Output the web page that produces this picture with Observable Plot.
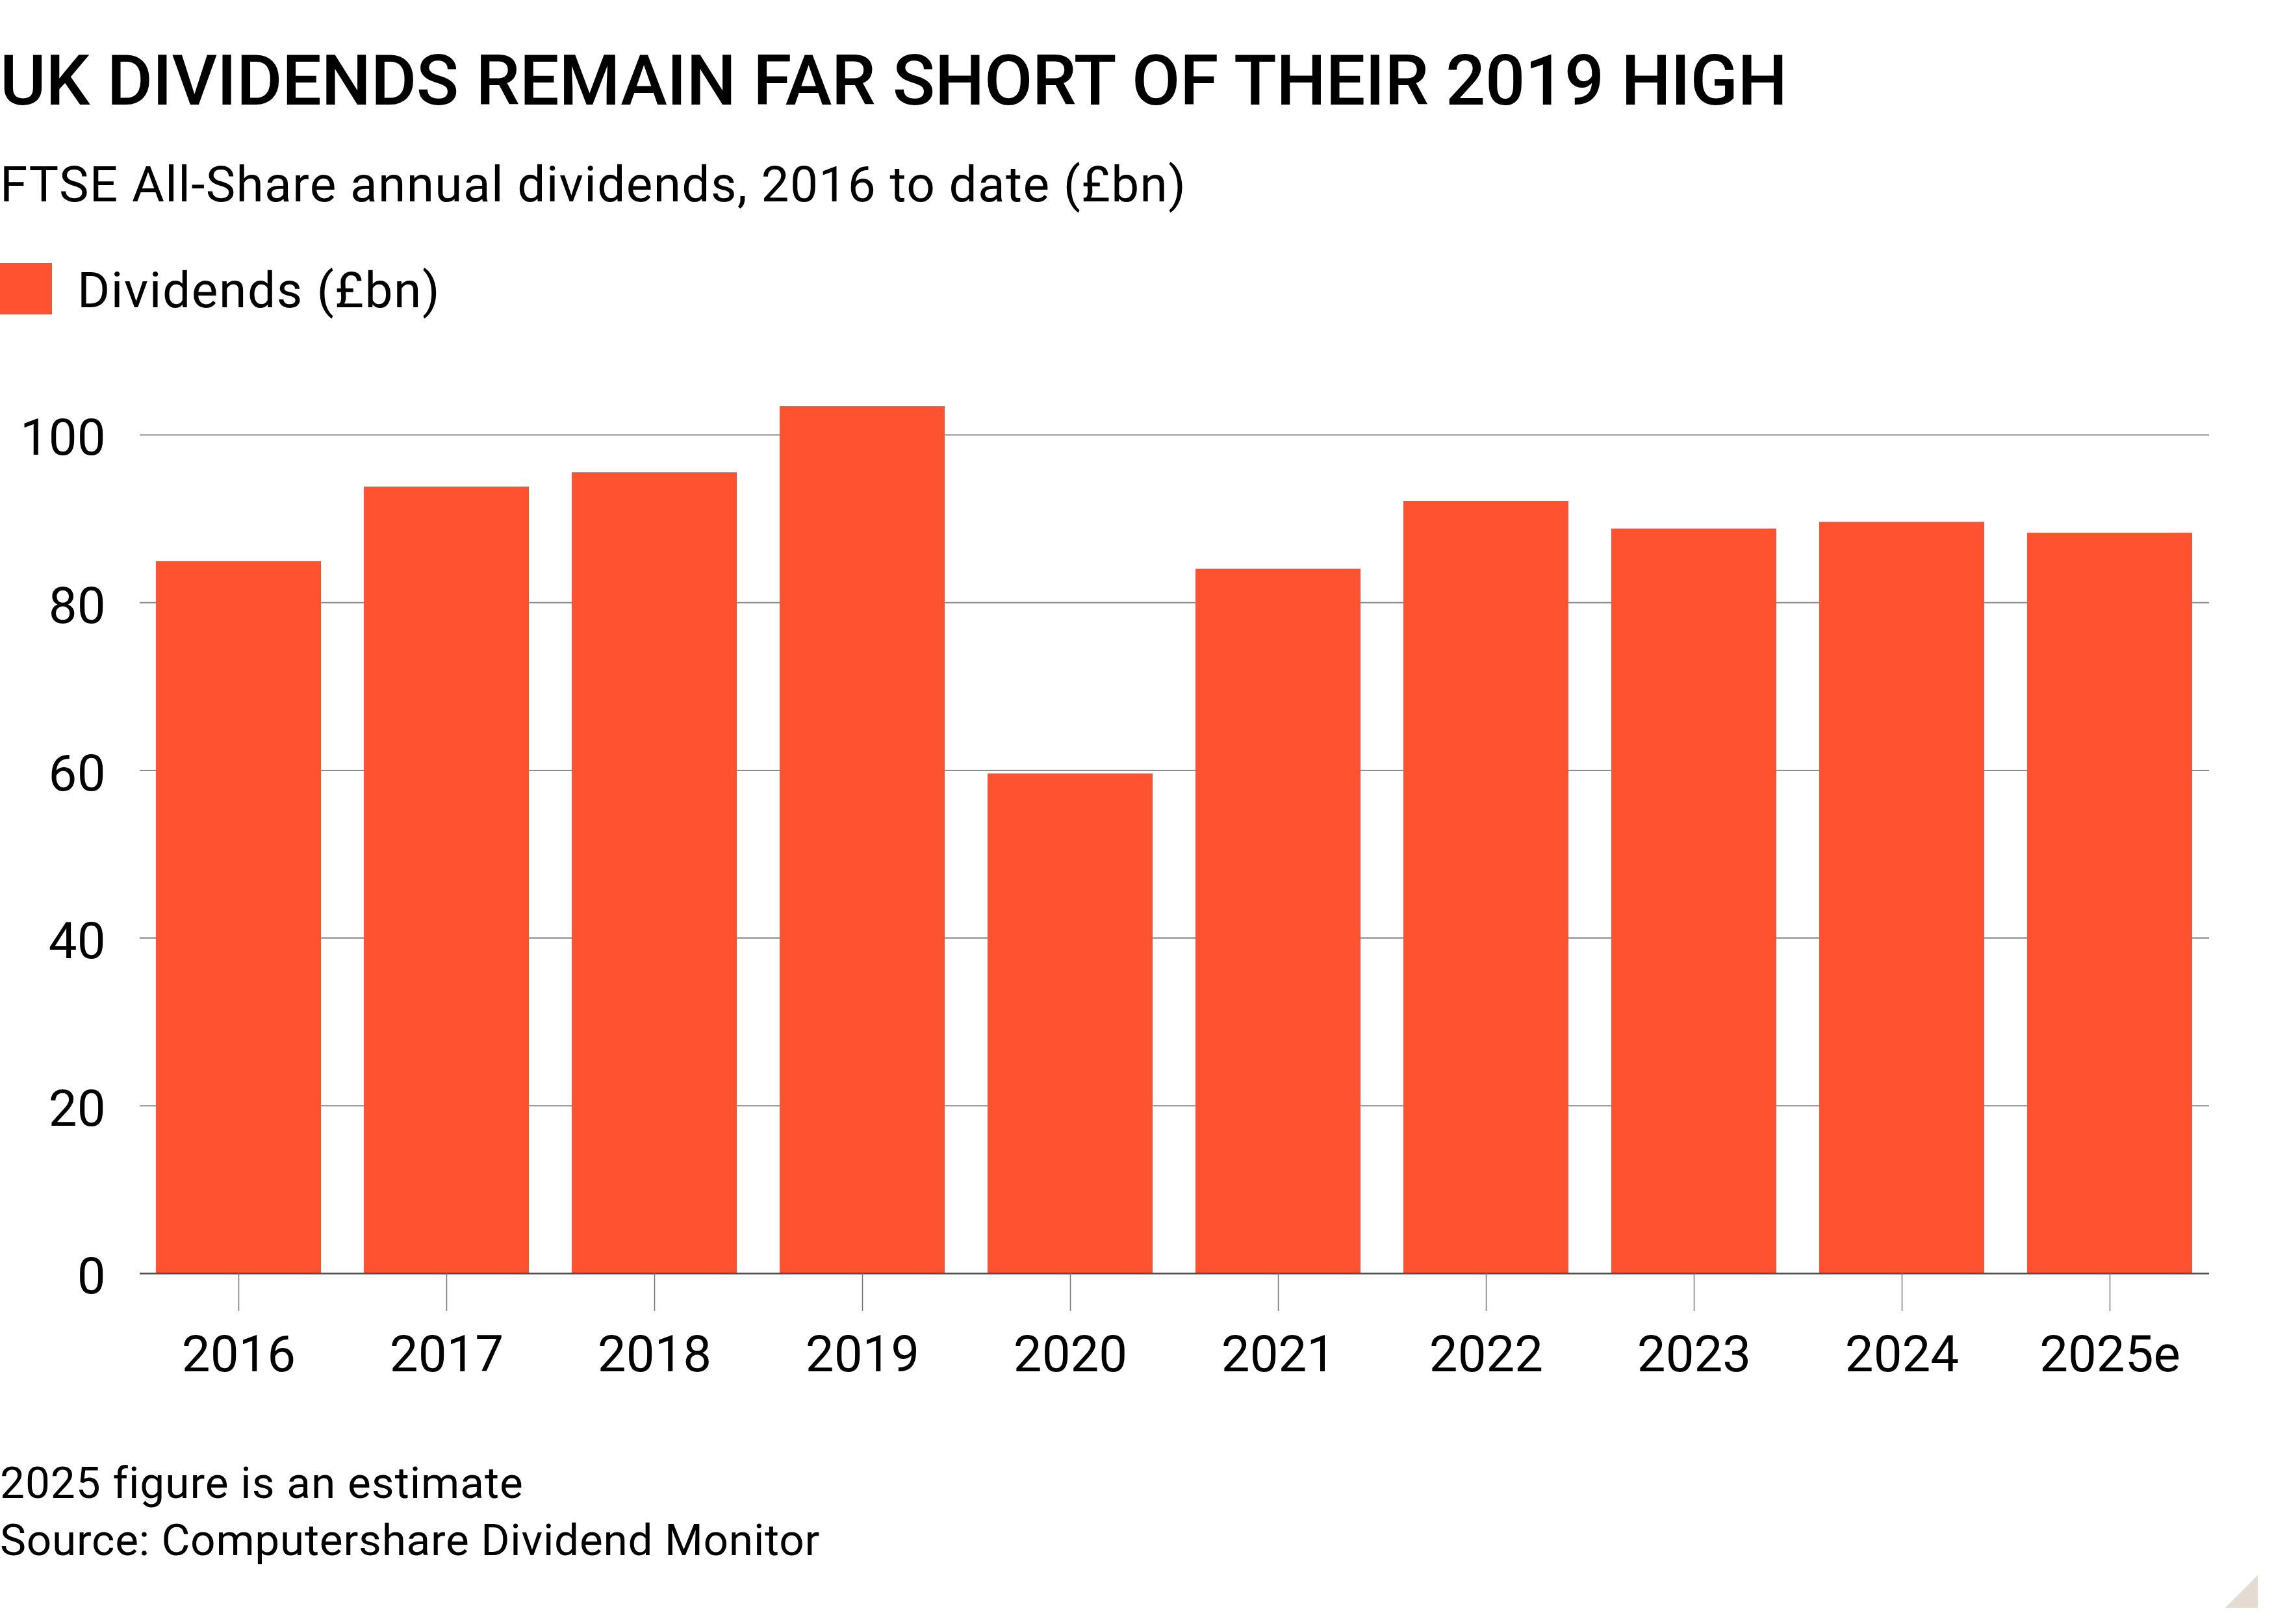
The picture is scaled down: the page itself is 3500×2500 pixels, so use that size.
<!DOCTYPE html>
<html>
<head>
<meta charset="utf-8">
<script src="https://cdn.jsdelivr.net/npm/d3@7"></script>
<script src="https://cdn.jsdelivr.net/npm/@observablehq/plot@0.6"></script>
<style>
  html, body { margin: 0; padding: 0; background: #fff; }
  body { width: 3500px; height: 2500px; position: relative; overflow: hidden; font-family: Roboto, "Noto Sans", sans-serif; color: #000; }
  .t { position: absolute; left: 0; white-space: nowrap; line-height: 1; }
  #title { top: 70px; font-size: 108px; font-weight: 500; letter-spacing: -0.45px; }
  #subtitle { top: 246px; font-size: 76.6px; letter-spacing: 1.35px; }
  #legend-swatch { position: absolute; left: 0; top: 405px; width: 80px; height: 79px; background: #ff5230; }
  #legend-label { left: 119px; top: 409px; font-size: 76.6px; letter-spacing: 1.6px; }
  #chart { position: absolute; left: 0; top: 560px; }
  #note { top: 2249px; font-size: 67.5px; letter-spacing: 1px; }
  #source { top: 2337px; font-size: 67.5px; letter-spacing: 0.77px; }
  #corner { position: absolute; left: 3425px; top: 2425px; width: 50px; height: 50px; background: #e6dbd0; clip-path: polygon(100% 0, 100% 100%, 0 100%); }
</style>
</head>
<body>
<div class="t" id="title">UK DIVIDENDS REMAIN FAR SHORT OF THEIR 2019 HIGH</div>
<div class="t" id="subtitle">FTSE All-Share annual dividends, 2016 to date (£bn)</div>
<div id="legend-swatch"></div>
<div class="t" id="legend-label">Dividends (£bn)</div>
<div id="chart"></div>
<div class="t" id="note">2025 figure is an estimate</div>
<div class="t" id="source">Source: Computershare Dividend Monitor</div>
<div id="corner"></div>
<script>
const years = ["2016", "2017", "2018", "2019", "2020", "2021", "2022", "2023", "2024", "2025e"];
const dividends = [84.9, 93.8, 95.5, 103.4, 59.6, 84.0, 92.1, 88.8, 89.6, 88.3];
const yTicks = [0, 20, 40, 60, 80, 100];
const gridTicks = [20, 40, 60, 80, 100];

const data = years.map((year, i) => ({year, value: dividends[i]}));

const chart = Plot.plot({
  width: 3500,
  height: 1600,
  marginTop: 109,
  marginBottom: 200,
  marginLeft: 215,
  marginRight: 100,
  style: {fontFamily: "Roboto, 'Noto Sans', sans-serif", color: "#000", background: "transparent"},
  x: {domain: years, paddingInner: 0.205, paddingOuter: 0.075, label: null},
  y: {domain: [0, 100], label: null},
  marks: [
    Plot.ruleY(gridTicks, {stroke: "#8c8c8c", strokeWidth: 2}),
    Plot.barY(data, {x: "year", y: "value", fill: "#ff5230"}),
    Plot.ruleY([0], {stroke: "#4d4d4d", strokeWidth: 2.5}),
    Plot.axisY({ticks: yTicks, tickSize: 0, tickPadding: 53, fontSize: 78, label: null, dy: 6}),
    Plot.axisX({tickSize: 58, tickPadding: 37, fontSize: 78, label: null, stroke: "#777", strokeWidth: 1.5})
  ]
});
document.getElementById("chart").appendChild(chart);
</script>
</body>
</html>
